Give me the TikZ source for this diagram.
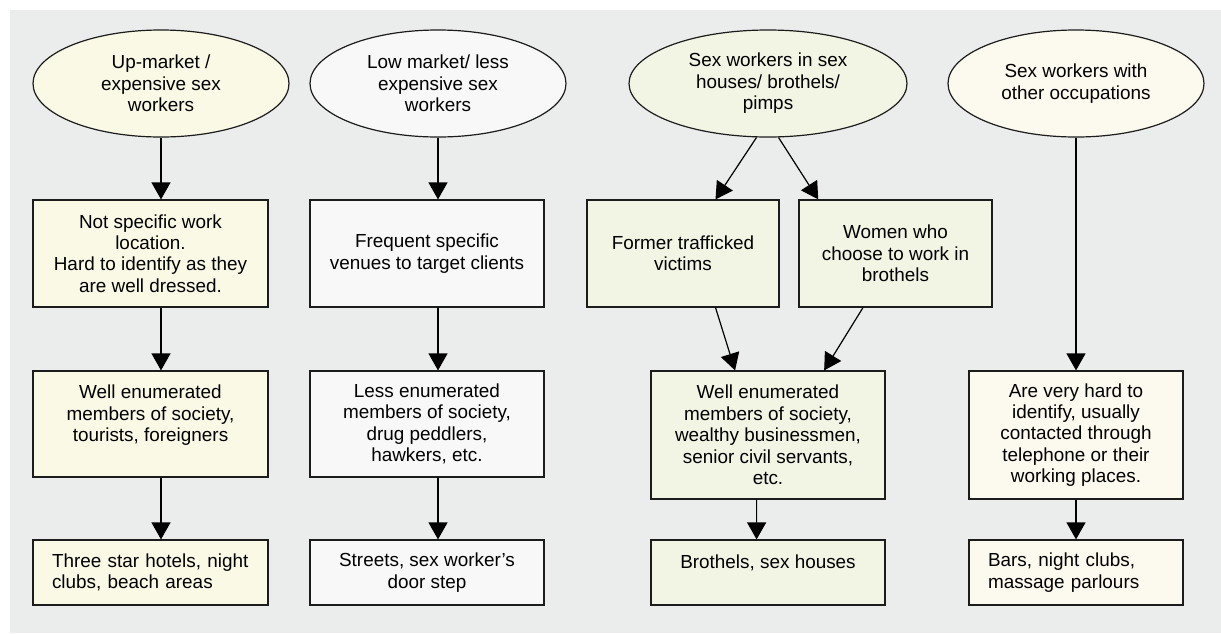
\documentclass[tikz,border=0pt]{standalone}
\usepackage{fontspec}
\setmainfont{Liberation Sans}
\usepackage{tikz}
\usetikzlibrary{arrows.meta,shapes.geometric}

\definecolor{bggray}{HTML}{EBECEC}
\definecolor{edge}{HTML}{1C1C1C}
\definecolor{upfill}{HTML}{FAF9E6}
\definecolor{lowfill}{HTML}{F8F8F8}
\definecolor{housefill}{HTML}{F2F5E3}
\definecolor{otherfill}{HTML}{FCF9EE}

\begin{document}
\begin{tikzpicture}[x=1pt,y=-1pt,>={Triangle[length=17pt,width=19pt]},
    every node/.style={font=\fontsize{18.9}{21.4}\selectfont},
    oval/.style={draw=edge, line width=1.2pt, ellipse, align=center, inner sep=0pt, minimum width=256pt, minimum height=107pt},
    box/.style={draw=edge, line width=1.2pt, rectangle, align=center, inner sep=0pt},
    leftbox/.style={box, align=left, inner xsep=19pt},
    flow/.style={->, line width=1.2pt, draw=black}]
    \useasboundingbox (0,0) rectangle (1221,633);
    \fill[bggray] (10,10) rectangle (1221,633);

    % the four groups
    \node[oval, fill=upfill] (up) at (161,83.5) {Up-market /\\ expensive sex\\ workers};
    \node[oval, fill=lowfill] (low) at (438,83.5) {Low market/ less\\ expensive sex\\ workers};
    \node[oval, fill=housefill, minimum width=278pt] (house) at (768,83.5) {Sex workers in sex\\ houses/ brothels/\\ pimps};
    \node[oval, fill=otherfill] (other) at (1076,83.5) {Sex workers with\\ other occupations};

    % how they work
    \node[box, fill=upfill, minimum width=235pt, minimum height=107pt] (uploc) at (150.5,253.5) {Not specific work\\ location.\\ Hard to identify as they\\ are well dressed.};
    \node[box, fill=lowfill, minimum width=234pt, minimum height=107pt] (lowloc) at (427,253.5) {Frequent specific\\ venues to target clients};
    \node[box, fill=housefill, minimum width=192pt, minimum height=107pt] (former) at (683,253.5) {Former trafficked\\ victims};
    \node[box, fill=housefill, minimum width=193pt, minimum height=107pt] (women) at (895.5,253.5) {Women who\\ choose to work in\\ brothels};

    % clients
    \node[box, fill=upfill, minimum width=235pt, minimum height=106pt] (upcli) at (150.5,424) {Well enumerated\\ members of society,\\ tourists, foreigners\\ ~};
    \node[box, fill=lowfill, minimum width=234pt, minimum height=106pt] (lowcli) at (427,424) {Less enumerated\\ members of society,\\ drug peddlers,\\ hawkers, etc.};
    \node[box, fill=housefill, minimum width=234pt, minimum height=128pt] (housecli) at (768,435) {Well enumerated\\ members of society,\\ wealthy businessmen,\\ senior civil servants,\\ etc.};
    \node[box, fill=otherfill, minimum width=214pt, minimum height=128pt] (othercli) at (1076,435) {Are very hard to\\ identify, usually\\ contacted through\\ telephone or their\\ working places.};

    % places
    \node[leftbox, fill=upfill, text width=197pt, minimum height=65pt] (upplace) at (150.5,572.5) {Three star hotels, night\\ clubs, beach areas};
    \node[box, fill=lowfill, minimum width=234pt, minimum height=65pt] (lowplace) at (427,572.5) {Streets, sex worker’s\\ door step};
    \node[box, fill=housefill, minimum width=234pt, minimum height=65pt] (houseplace) at (768,572.5) {Brothels, sex houses\\ ~};
    \node[leftbox, fill=otherfill, text width=176pt, minimum height=65pt] (otherplace) at (1076,572.5) {Bars, night clubs,\\ massage parlours};

    \draw[flow] (up.south) -- (up.south |- uploc.north);
    \draw[flow] (up |- uploc.south) -- (up |- upcli.north);
    \draw[flow] (up |- upcli.south) -- (up |- upplace.north);

    \draw[flow] (low.south) -- (low.south |- lowloc.north);
    \draw[flow] (low |- lowloc.south) -- (low |- lowcli.north);
    \draw[flow] (low |- lowcli.south) -- (low |- lowplace.north);

    \draw[flow] (house.258) -- (former.59);
    \draw[flow] (house.281) -- (women.145);
    \draw[flow] (former.301) -- (housecli.117);
    \draw[flow] (women.239) -- (housecli.49);
    \draw[flow] (housecli.260) -- (houseplace.109);

    \draw[flow] (other.south) -- (othercli.north);
    \draw[flow] (othercli.south) -- (otherplace.north);
\end{tikzpicture}
\end{document}
